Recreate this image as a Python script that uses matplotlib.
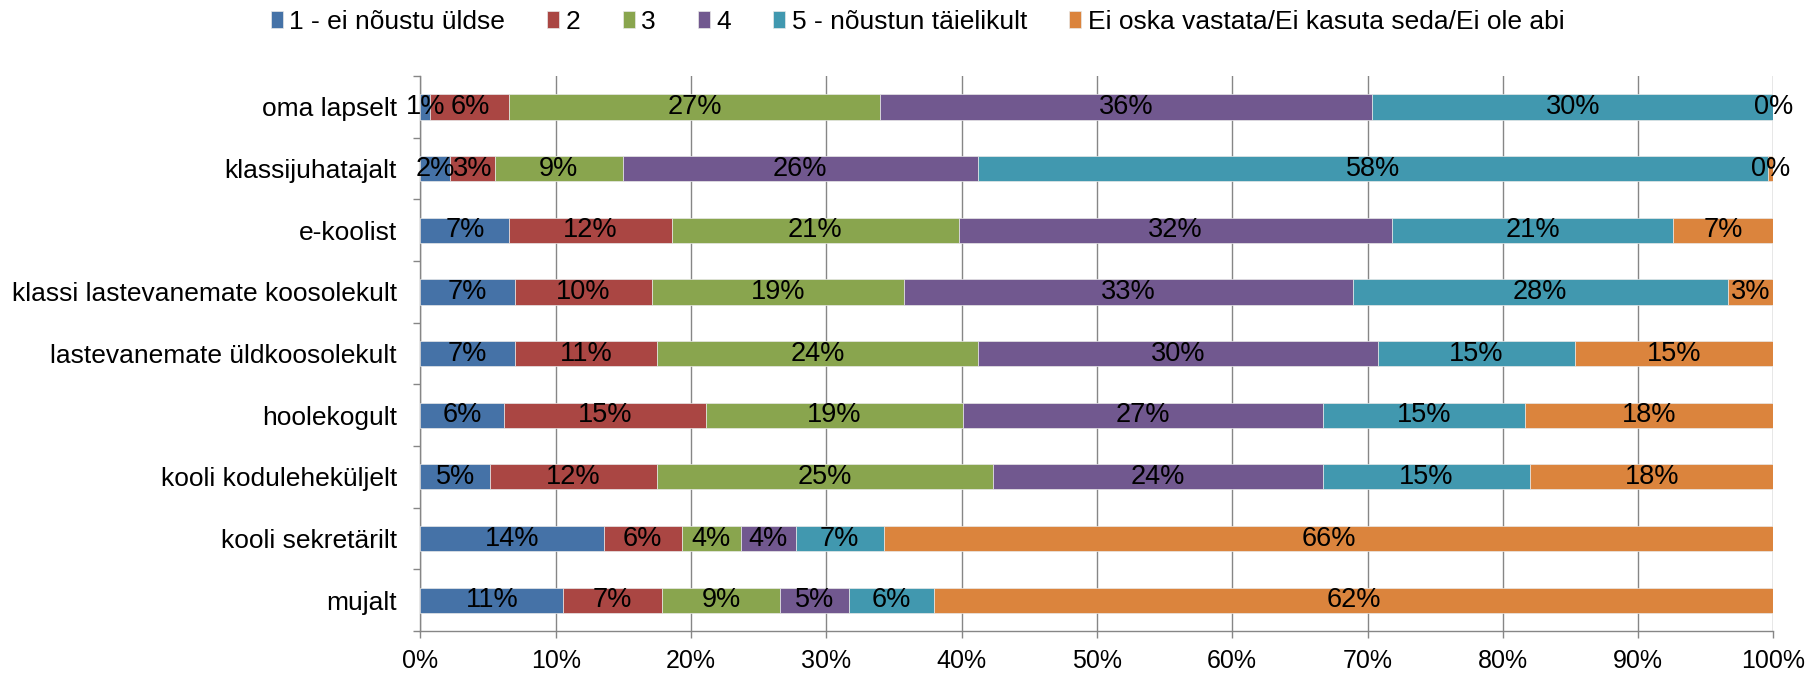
import matplotlib.pyplot as plt
import numpy as np

plt.rcParams['font.family'] = ['Liberation Sans', 'DejaVu Sans']

# Kategooriad (ülevalt alla)
categories = ['oma lapselt', 'klassijuhatajalt', 'e-koolist',
              'klassi lastevanemate koosolekult', 'lastevanemate üldkoosolekult',
              'hoolekogult', 'kooli koduleheküljelt', 'kooli sekretärilt', 'mujalt']

series_names = ['1 - ei nõustu üldse', '2', '3', '4', '5 - nõustun täielikult',
                'Ei oska vastata/Ei kasuta seda/Ei ole abi']

# Protsendid iga vastusevariandi kohta (pildilt loetud)
v1 = [0.73, 2.21, 6.57, 6.96, 6.96, 6.20, 5.12, 13.53, 10.56]
v2 = [5.84, 3.27, 12.01, 10.17, 10.53, 14.92, 12.37, 5.78, 7.29]
v3 = [27.38, 9.47, 21.21, 18.61, 23.72, 18.98, 24.81, 4.39, 8.75]
v4 = [36.41, 26.23, 32.01, 33.16, 29.53, 26.63, 24.43, 4.02, 5.11]
v5 = [29.64, 58.42, 20.80, 27.72, 14.58, 14.93, 15.27, 6.53, 6.21]
v6 = [0.00, 0.40, 7.40, 3.38, 14.68, 18.34, 18.00, 65.75, 62.08]

colors = ['#4572A7', '#AA4643', '#89A54E', '#71588F', '#4198AF', '#DB843D']

fig = plt.figure(figsize=(18.10, 6.73), dpi=100)
ax = fig.add_axes([0.2323, 0.0624, 0.7475, 0.8246])

y = np.arange(len(categories))
left = np.zeros(len(categories))
for vals, name, col in zip([v1, v2, v3, v4, v5, v6], series_names, colors):
    vals = np.array(vals)
    bars = ax.barh(y, vals, left=left, height=0.41, color=col, label=name,
                   edgecolor='#e8e8e8', linewidth=0.5, zorder=3)
    ax.bar_label(bars, labels=['%d%%' % round(v) for v in vals],
                 label_type='center', fontsize=19.5, color='black', zorder=4)
    left += vals

ax.set_xlim(0, 100)
ax.set_ylim(len(categories) - 0.5, -0.5)

# x-telg
ax.set_xticks(np.arange(0, 101, 10))
ax.set_xticklabels(['%d%%' % t for t in range(0, 101, 10)])
ax.tick_params(axis='x', labelsize=18, length=5, width=1, color='#868686', pad=8)
ax.xaxis.grid(True, color='#868686', linewidth=1.0, zorder=0)

# y-telg
ax.set_yticks(y)
ax.set_yticklabels(categories)
ax.set_yticks(np.arange(-0.5, len(categories), 1.0), minor=True)
ax.tick_params(axis='y', which='major', length=0, labelsize=19, pad=17)
ax.tick_params(axis='y', which='minor', length=5, width=1, color='#868686')

for s in ['top', 'right']:
    ax.spines[s].set_visible(False)
for s in ['left', 'bottom']:
    ax.spines[s].set_color('#868686')
    ax.spines[s].set_linewidth(1.0)

fig.legend(loc='center', bbox_to_anchor=(0.507, 0.968), ncol=6, frameon=False,
           fontsize=19, handlelength=0.45, handleheight=0.6, handletextpad=0.25,
           columnspacing=1.6)

plt.savefig('out.png', dpi=100)
